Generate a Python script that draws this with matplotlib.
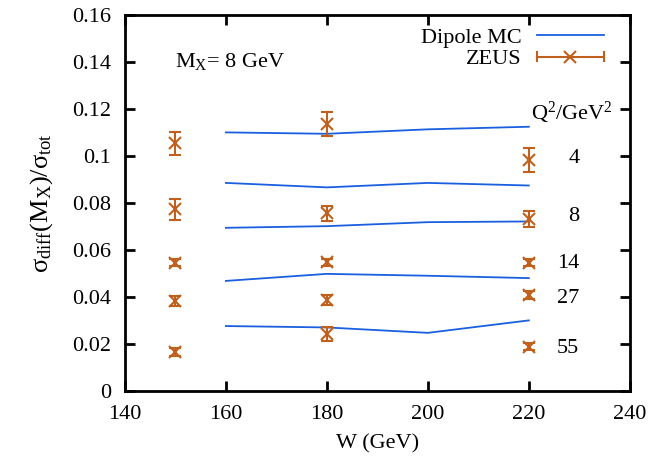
import numpy as np
import matplotlib.pyplot as plt
from matplotlib.legend_handler import HandlerBase
from matplotlib.lines import Line2D

plt.rcParams['font.family'] = ['Liberation Serif', 'DejaVu Serif']
plt.rcParams['mathtext.fontset'] = 'custom'
plt.rcParams['mathtext.rm'] = 'Liberation Serif'
plt.rcParams['mathtext.it'] = 'Liberation Serif:italic'

# dipole MC curves, one per Q^2 bin
w_mc = [160, 180, 200, 220]
mc_curves = [
    [0.1101, 0.1095, 0.1114, 0.1125],
    [0.0886, 0.0867, 0.0886, 0.0875],
    [0.0695, 0.0702, 0.0719, 0.0722],
    [0.0469, 0.0499, 0.0491, 0.0481],
    [0.0277, 0.0271, 0.0248, 0.0301],
]

# ZEUS data
w_data = [150, 180, 220]
zeus_vals = [
    [0.1054, 0.1136, 0.0983],
    [0.0773, 0.0756, 0.0733],
    [0.0546, 0.0548, 0.0546],
    [0.0384, 0.0387, 0.0409],
    [0.0167, 0.0243, 0.0189],
]
zeus_errs = [
    [0.0050, 0.0050, 0.0050],
    [0.0045, 0.0033, 0.0035],
    [0.0015, 0.0015, 0.0015],
    [0.0020, 0.0020, 0.0018],
    [0.0018, 0.0030, 0.0015],
]

q2_labels = ['4', '8', '14', '27', '55']
q2_label_y = [0.0991, 0.0742, 0.0543, 0.0394, 0.0182]

blue = '#1a5fe0'
orange = '#c0601c'


class HandlerHErr(HandlerBase):
    # gnuplot-style key: horizontal bar with caps and the point in the middle
    def create_artists(self, legend, orig_handle, xdescent, ydescent,
                       width, height, fontsize, trans):
        c = orig_handle[0].get_color()
        y = height / 2 - ydescent
        x0, x1 = -xdescent, width - xdescent
        h = 0.3 * height
        arts = [
            Line2D([x0, x1], [y, y], color=c, lw=1.5),
            Line2D([x0, x0], [y - h, y + h], color=c, lw=1.5),
            Line2D([x1, x1], [y - h, y + h], color=c, lw=1.5),
            Line2D([(x0 + x1) / 2], [y], marker='x', ms=8, mew=1.5, color=c, ls='none'),
        ]
        for a in arts:
            a.set_transform(trans)
        return arts


fig = plt.figure(figsize=(6.54, 4.58), dpi=100)
ax = fig.add_axes([0.191, 0.146, 0.772, 0.821])

for i, ys in enumerate(mc_curves):
    ax.plot(w_mc, ys, color=blue, lw=1.3,
            label='Dipole MC' if i == 0 else None)

zeus_handle = None
for i in range(len(zeus_vals)):
    eb = ax.errorbar(w_data, zeus_vals[i], yerr=zeus_errs[i], fmt='x', color=orange,
                     ms=8, mew=1.5, elinewidth=1.5, capsize=4.5, capthick=1.5,
                     label='ZEUS' if i == 0 else None)
    if i == 0:
        zeus_handle = eb

for lab, yy in zip(q2_labels, q2_label_y):
    ax.text(230, yy, lab, fontsize=16, ha='right', va='center')
ax.text(236.6, 0.1185, r'Q$^2$/GeV$^2$', fontsize=16, ha='right', va='center')
ax.text(150, 0.1404, r'M$_\mathrm{X}$= 8 GeV', fontsize=16, ha='left', va='center')

ax.set_xlim(140, 240)
ax.set_ylim(0, 0.16)
ax.set_xticks([140, 160, 180, 200, 220, 240])
ax.set_yticks(np.arange(0, 0.161, 0.02))
ax.set_yticklabels(['0', '0.02', '0.04', '0.06', '0.08', '0.1', '0.12', '0.14', '0.16'])
ax.tick_params(direction='in', length=7.5, width=2, labelsize=16, top=True, right=True, pad=10)
for s in ax.spines.values():
    s.set_linewidth(2)

ax.set_xlabel('W (GeV)', fontsize=16, labelpad=7)
ax.set_ylabel(r'σ$_\mathrm{diff}$(M$_\mathrm{X}$)/σ$_\mathrm{tot}$', fontsize=19, labelpad=12)

handles, labels = ax.get_legend_handles_labels()
leg = ax.legend(handles, labels, loc='upper right', bbox_to_anchor=(0.9485, 0.968),
                frameon=False, fontsize=16, markerfirst=False, handlelength=3.0,
                labelspacing=0.05, handletextpad=0.68, borderpad=0, borderaxespad=0,
                handler_map={zeus_handle: HandlerHErr()})

fig.savefig('out.png', dpi=100)
